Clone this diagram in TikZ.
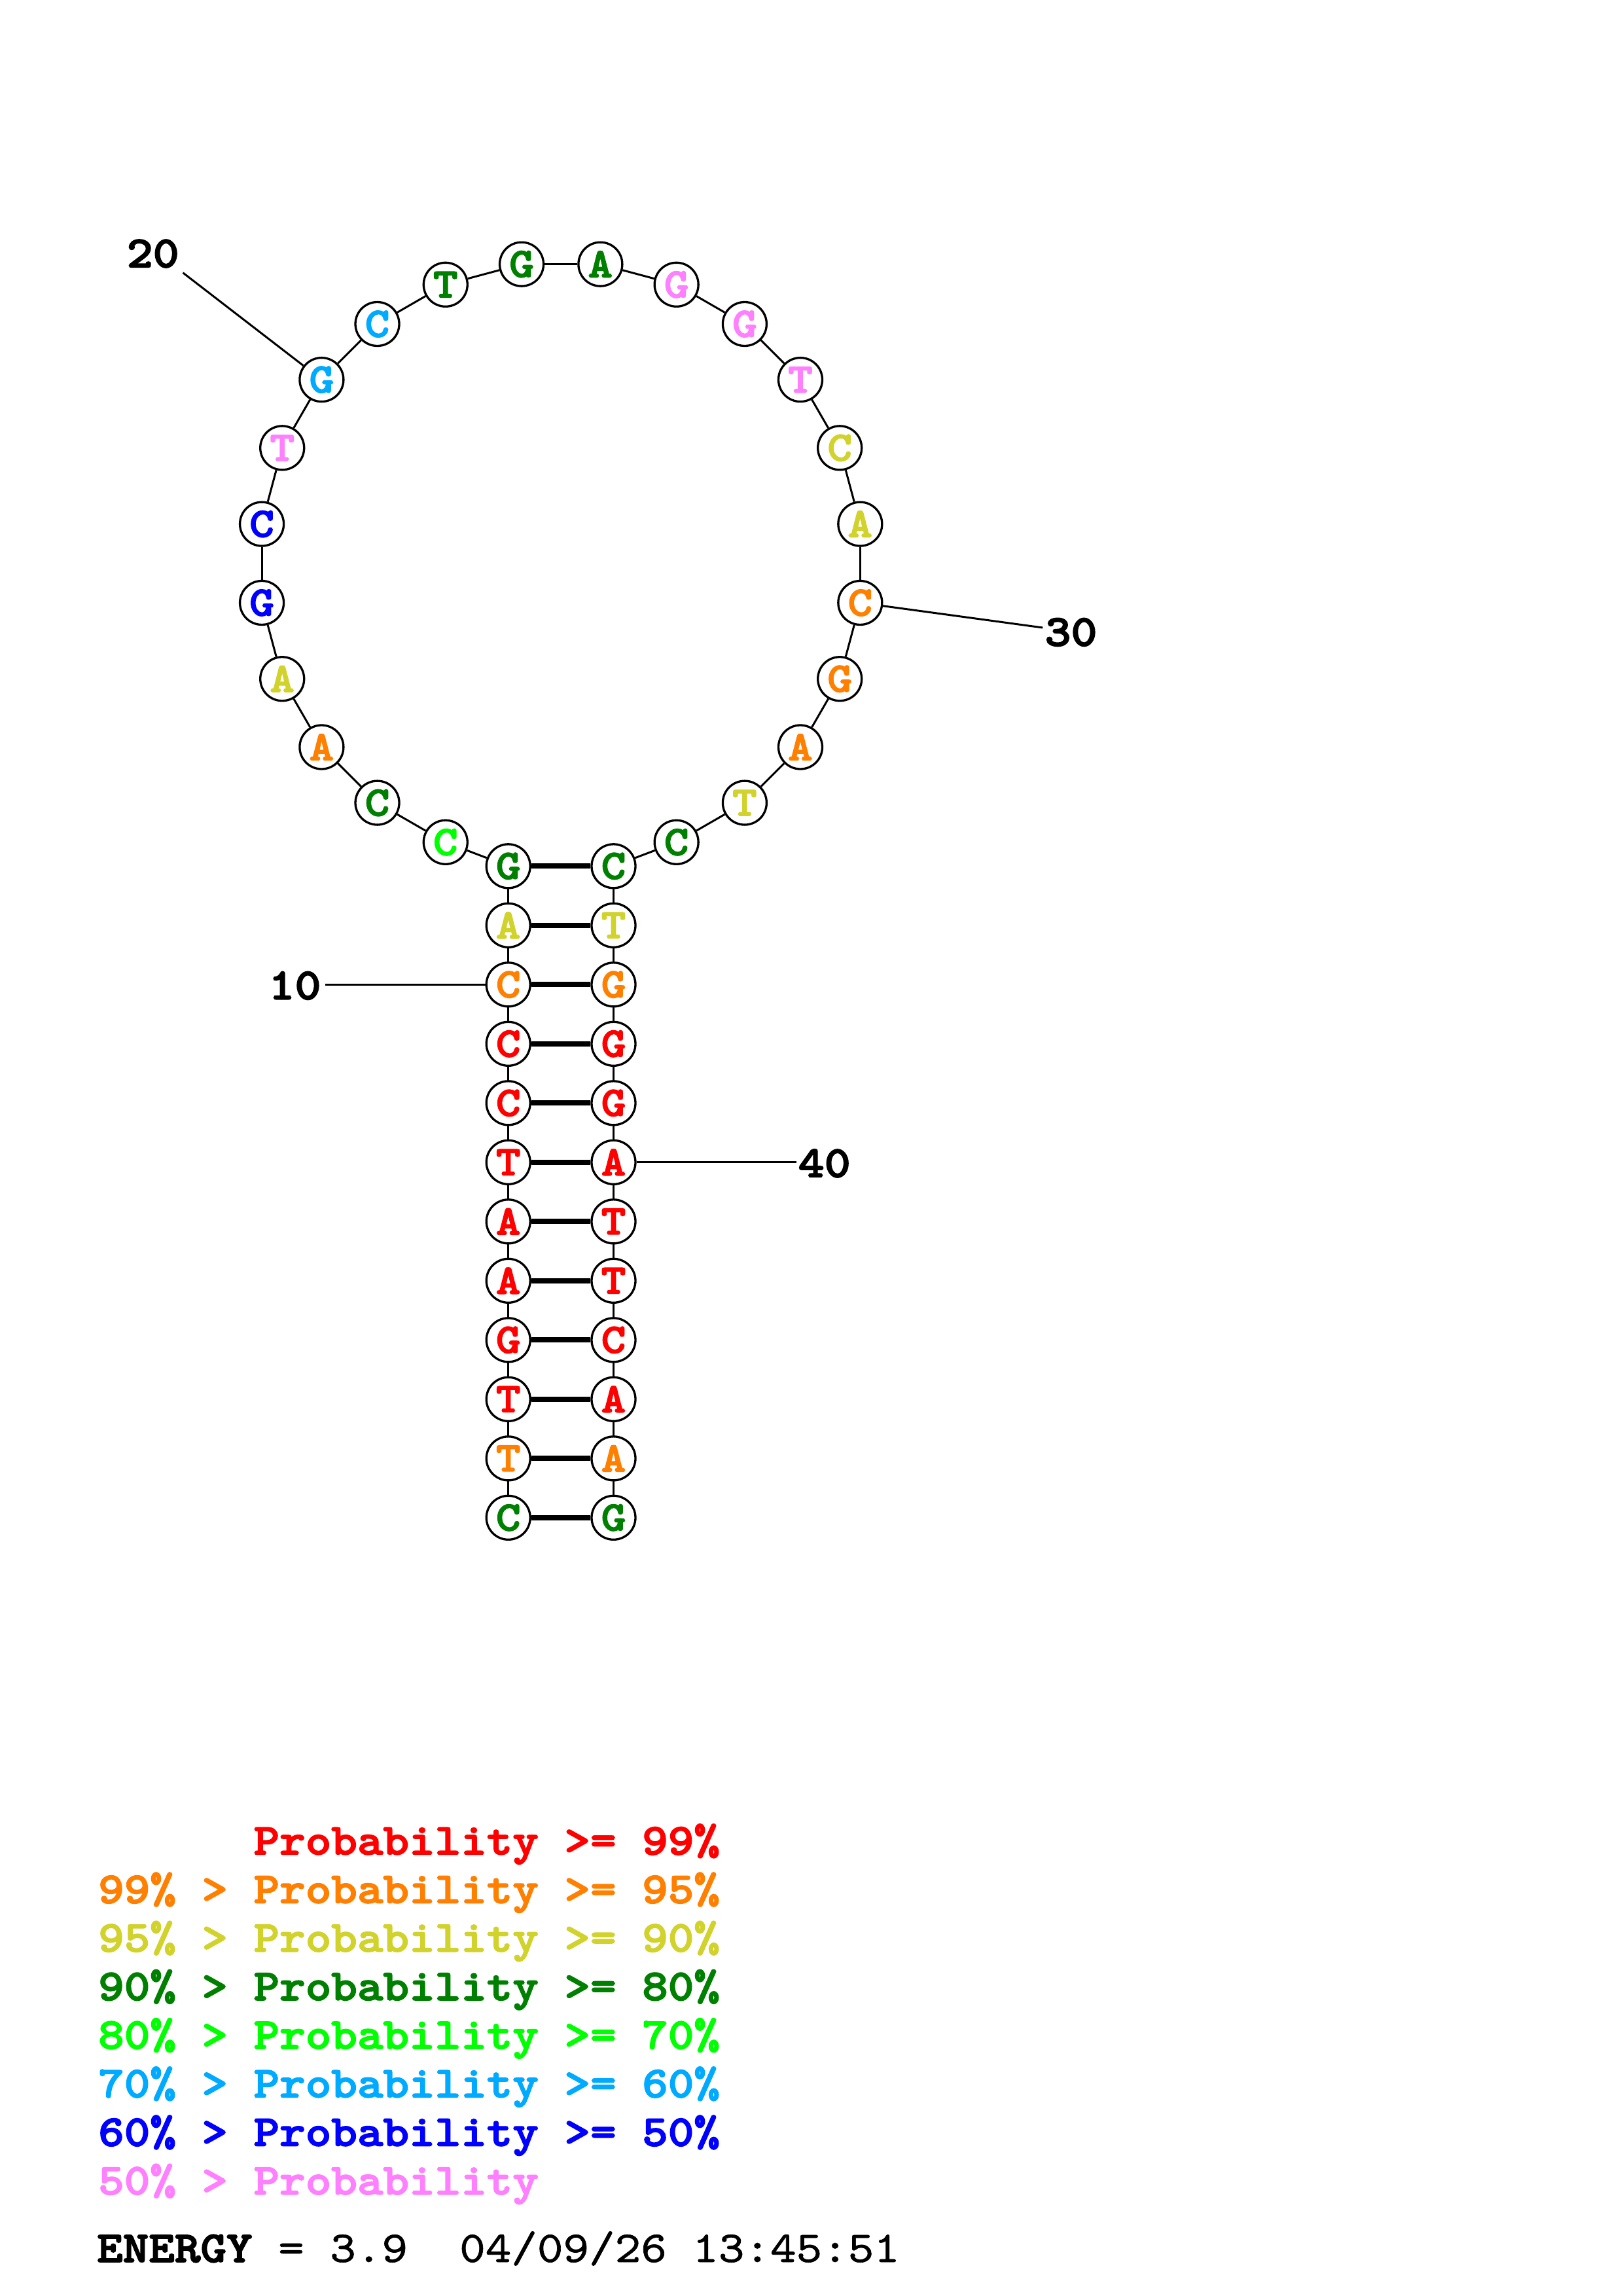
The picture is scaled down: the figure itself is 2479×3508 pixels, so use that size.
\documentclass[tikz,border=0pt]{standalone}
\usepackage{fontspec}
\newfontfamily\courB{lmmonolt10-bold}[Extension=.otf,FakeStretch=1.12,FakeBold=2.5]
\newfontfamily\courR{lmmono10-regular}[Extension=.otf,FakeStretch=1.12,FakeBold=1]
\definecolor{cR}{RGB}{255,0,0}
\definecolor{cO}{RGB}{255,128,0}
\definecolor{cY}{RGB}{210,210,45}
\definecolor{cG}{RGB}{0,128,0}
\definecolor{cL}{RGB}{0,255,0}
\definecolor{cC}{RGB}{0,170,255}
\definecolor{cB}{RGB}{0,0,255}
\definecolor{cP}{RGB}{255,128,255}
\begin{document}
\begin{tikzpicture}[x=1pt,y=-1pt,
  base/.style={circle,draw=black,line width=3.3pt,fill=white,minimum size=67pt,inner sep=0pt,
    font=\courB\fontsize{64}{64}\selectfont},
  bb/.style={line width=3pt},
  bond/.style={line width=8pt},
  tick/.style={line width=3pt},
  num/.style={anchor=base,inner sep=0pt,font=\courB\fontsize{68}{68}\selectfont},
  leg/.style={anchor=base west,inner sep=0pt,font=\courB\fontsize{67.3}{68}\selectfont}]
\useasboundingbox[fill=white] (0,0) rectangle (2479,3508);
% left stem (positions 1..12)
\foreach \p/\l/\c in {1/C/cG,2/T/cO,3/T/cR,4/G/cR,5/A/cR,6/A/cR,7/T/cR,8/C/cR,9/C/cR,10/C/cO,11/A/cY,12/G/cG}
  \node[base,text=\c] (n\p) at (776.7,{1323.3+90.5*(12-\p)}) {\l};
% right stem (positions 35..46)
\foreach \p/\l/\c in {35/C/cG,36/T/cY,37/G/cO,38/G/cR,39/G/cR,40/A/cR,41/T/cR,42/T/cR,43/C/cR,44/A/cR,45/A/cO,46/G/cG}
  \node[base,text=\c] (n\p) at (937.5,{1323.3+90.5*(\p-35)}) {\l};
% hairpin loop (positions 13..34)
\foreach \p/\l/\c in {13/C/cL,14/C/cG,15/A/cO,16/A/cY,17/G/cB,18/C/cB,19/T/cP,20/G/cC,21/C/cC,22/T/cG,23/G/cG,24/A/cG,25/G/cP,26/G/cP,27/T/cP,28/C/cY,29/A/cY,30/C/cO,31/G/cO,32/A/cO,33/T/cY,34/C/cG}
  \node[base,text=\c] (n\p) at ({857.2+461.1*cos(90+(23.5-\p)*15)},{860.8-461.1*sin(90+(23.5-\p)*15)}) {\l};
% backbone
\foreach \i [evaluate=\i as \j using int(\i+1)] in {1,...,45}
  \draw[bb] (n\i) -- (n\j);
% base pairs
\foreach \p [evaluate=\p as \q using int(47-\p)] in {1,...,12}
  \draw[bond] (n\p) -- (n\q);
% position labels
\coordinate (e20) at (279.5,416.7);
\coordinate (e30) at (1593.3,959);
\coordinate (e10) at (496.7,1504.3);
\coordinate (e40) at (1216.7,1775.8);
\draw[tick] (n20) -- (e20);
\draw[tick] (n30) -- (e30);
\draw[tick] (n10) -- (e10);
\draw[tick] (n40) -- (e40);
\node[num] (t20) at (233.7,408.3) {20};
\node[num] (t30) at (1636.5,986.7) {30};
\node[num] (t10) at (450.5,1526.7) {10};
\node[num] (t40) at (1259.7,1798.3) {40};
% legend
\node[leg,text=cR] (g0) at (150,2833.3) {\phantom{99\% > }Probability >= 99\%};
\node[leg,text=cO] (g1) at (150,2907.5) {99\% > Probability >= 95\%};
\node[leg,text=cY] (g2) at (150,2981.7) {95\% > Probability >= 90\%};
\node[leg,text=cG] (g3) at (150,3055.9) {90\% > Probability >= 80\%};
\node[leg,text=cL] (g4) at (150,3130.1) {80\% > Probability >= 70\%};
\node[leg,text=cC] (g5) at (150,3204.3) {70\% > Probability >= 60\%};
\node[leg,text=cB] (g6) at (150,3278.5) {60\% > Probability >= 50\%};
\node[leg,text=cP] (g7) at (150,3352.7) {50\% > Probability};
\node[leg,text=black] (en) at (148,3456) {ENERGY{\courR\fontsize{67.3}{68}\selectfont{} = 3.9\ \ 04/09/26 13:45:51}};
\end{tikzpicture}
\end{document}
